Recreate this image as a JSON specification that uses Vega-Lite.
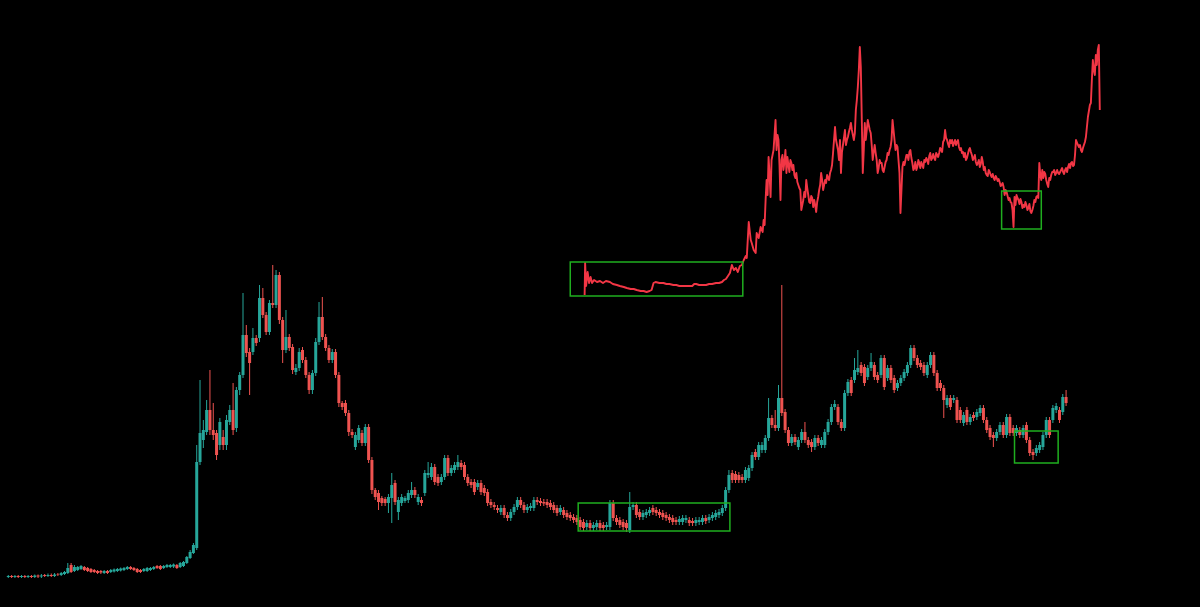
{
"$schema":"https://vega.github.io/schema/vega-lite/v6.json",
"width":1200,"height":607,
"autosize":{"type":"fit","contains":"padding"},
"padding":0,
"background":"#000000",
"config":{"view":{"stroke":null}},
"datasets":{
"candles":[
{"w":0,"o":23,"h":25,"l":22,"c":24},{"w":1,"o":24,"h":25,"l":22,"c":23},{"w":2,"o":23,"h":25,"l":22,"c":24},{"w":3,"o":24,"h":25,"l":22,"c":23},{"w":4,"o":23,"h":25,"l":22,"c":24},{"w":5,"o":24,"h":25,"l":22,"c":23},{"w":6,"o":23,"h":25,"l":22,"c":24},{"w":7,"o":24,"h":25,"l":22,"c":23},{"w":8,"o":23,"h":25.5,"l":22,"c":24.5},{"w":9,"o":24.5,"h":25.5,"l":22,"c":23.5},{"w":10,"o":23.5,"h":26,"l":22,"c":24.5},{"w":11,"o":25,"h":26,"l":23,"c":24},{"w":12,"o":24,"h":26.5,"l":23,"c":25},{"w":13,"o":25,"h":26.5,"l":23,"c":24},{"w":14,"o":24,"h":27,"l":23,"c":25.5},{"w":15,"o":25.5,"h":27,"l":24,"c":25},
{"w":16,"o":25,"h":28,"l":24,"c":27},{"w":17,"o":26,"h":29,"l":25,"c":28},{"w":18,"o":27,"h":37,"l":26,"c":32},{"w":19,"o":35,"h":37,"l":27,"c":28},{"w":20,"o":29,"h":35,"l":28,"c":33},{"w":21,"o":30,"h":34,"l":29,"c":33},{"w":22,"o":31,"h":35,"l":30,"c":34},{"w":23,"o":33,"h":34,"l":29,"c":30},{"w":24,"o":32,"h":33,"l":28,"c":29},{"w":25,"o":31,"h":32,"l":27,"c":28},{"w":26,"o":30,"h":31,"l":27,"c":28},{"w":27,"o":29,"h":30,"l":26,"c":27},{"w":28,"o":29,"h":30,"l":26,"c":27.5},{"w":29,"o":27,"h":30,"l":26,"c":29},{"w":30,"o":29,"h":30,"l":26,"c":27},{"w":31,"o":28,"h":31,"l":27,"c":30},{"w":32,"o":28.5,"h":31.5,"l":27.5,"c":30.5},{"w":33,"o":29,"h":32,"l":28,"c":31},{"w":34,"o":29.5,"h":32.5,"l":28.5,"c":31.5},{"w":35,"o":30,"h":33,"l":29,"c":32},{"w":36,"o":31,"h":34,"l":30,"c":33},{"w":37,"o":33,"h":34,"l":30,"c":31},{"w":38,"o":32,"h":33,"l":29,"c":30},{"w":39,"o":31,"h":32,"l":27,"c":28},{"w":40,"o":30,"h":31,"l":27,"c":28},{"w":41,"o":29,"h":32,"l":28,"c":31},{"w":42,"o":29,"h":33,"l":28,"c":32},{"w":43,"o":30,"h":33,"l":29,"c":32},{"w":44,"o":31,"h":34,"l":30,"c":33},{"w":45,"o":34,"h":35,"l":31,"c":32},{"w":46,"o":34,"h":35,"l":30,"c":31},{"w":47,"o":32,"h":35,"l":31,"c":34},{"w":48,"o":33,"h":36,"l":32,"c":35},{"w":49,"o":33,"h":36,"l":32,"c":35},{"w":50,"o":33.5,"h":36.5,"l":32,"c":35.5},{"w":51,"o":35,"h":36,"l":31,"c":32},{"w":52,"o":33,"h":38,"l":32,"c":37},{"w":53,"o":34,"h":39,"l":33,"c":38},{"w":54,"o":37,"h":44,"l":36,"c":43},{"w":55,"o":42,"h":50,"l":41,"c":48},{"w":56,"o":47,"h":57,"l":46,"c":55},{"w":57,"o":52,"h":155,"l":50,"c":138},{"w":58,"o":138,"h":220,"l":135,"c":167},{"w":59,"o":160,"h":180,"l":152,"c":170},
{"w":60,"o":168,"h":200,"l":165,"c":190},{"w":61,"o":190,"h":230,"l":165,"c":170},{"w":62,"o":170,"h":197,"l":160,"c":165},{"w":63,"o":167,"h":170,"l":140,"c":145},{"w":64,"o":155,"h":182,"l":150,"c":178},{"w":65,"o":163,"h":170,"l":150,"c":155},{"w":66,"o":155,"h":185,"l":150,"c":180},{"w":67,"o":178,"h":195,"l":175,"c":190},{"w":68,"o":190,"h":217,"l":165,"c":170},{"w":69,"o":172,"h":213,"l":168,"c":210},{"w":70,"o":210,"h":228,"l":205,"c":225},{"w":71,"o":225,"h":307,"l":222,"c":265},{"w":72,"o":265,"h":275,"l":243,"c":247},{"w":73,"o":248,"h":252,"l":205,"c":237},{"w":74,"o":248,"h":272,"l":245,"c":262},{"w":75,"o":262,"h":265,"l":254,"c":257},{"w":76,"o":262,"h":315,"l":258,"c":302},{"w":77,"o":302,"h":312,"l":282,"c":285},{"w":78,"o":285,"h":288,"l":265,"c":268},{"w":79,"o":268,"h":300,"l":265,"c":297},{"w":80,"o":297,"h":335,"l":292,"c":295},{"w":81,"o":295,"h":330,"l":292,"c":325},{"w":82,"o":325,"h":328,"l":276,"c":280},{"w":83,"o":280,"h":283,"l":237,"c":250},{"w":84,"o":250,"h":290,"l":247,"c":263},{"w":85,"o":263,"h":266,"l":249,"c":252},{"w":86,"o":253,"h":256,"l":226,"c":230},{"w":87,"o":228,"h":236,"l":225,"c":232},{"w":88,"o":232,"h":252,"l":229,"c":248},{"w":89,"o":250,"h":253,"l":237,"c":240},
{"w":90,"o":240,"h":243,"l":222,"c":225},{"w":91,"o":225,"h":228,"l":206,"c":210},{"w":92,"o":210,"h":230,"l":206,"c":227},{"w":93,"o":227,"h":262,"l":224,"c":258},{"w":94,"o":258,"h":298,"l":255,"c":283},{"w":95,"o":283,"h":303,"l":260,"c":263},{"w":96,"o":263,"h":266,"l":249,"c":252},{"w":97,"o":252,"h":255,"l":237,"c":240},{"w":98,"o":240,"h":251,"l":237,"c":248},{"w":99,"o":248,"h":251,"l":222,"c":225},{"w":100,"o":225,"h":228,"l":193,"c":197},{"w":101,"o":197,"h":199,"l":190,"c":193},{"w":102,"o":197,"h":200,"l":184,"c":187},{"w":103,"o":187,"h":190,"l":164,"c":168},{"w":104,"o":168,"h":171,"l":162,"c":165},{"w":105,"o":153,"h":168,"l":150,"c":165},{"w":106,"o":160,"h":175,"l":157,"c":172},{"w":107,"o":167,"h":170,"l":154,"c":157},{"w":108,"o":157,"h":176,"l":154,"c":173},{"w":109,"o":173,"h":176,"l":137,"c":140},
{"w":110,"o":140,"h":143,"l":106,"c":110},{"w":111,"o":110,"h":112,"l":100,"c":103},{"w":112,"o":107,"h":110,"l":90,"c":98},{"w":113,"o":102,"h":104,"l":94,"c":97},{"w":114,"o":101,"h":103,"l":94,"c":97},{"w":115,"o":97,"h":106,"l":87,"c":103},{"w":116,"o":102,"h":127,"l":77,"c":115},{"w":117,"o":117,"h":120,"l":95,"c":98},{"w":118,"o":88,"h":103,"l":80,"c":100},{"w":119,"o":97,"h":106,"l":94,"c":103},{"w":120,"o":99,"h":104,"l":97,"c":102},{"w":121,"o":100,"h":110,"l":97,"c":107},{"w":122,"o":105,"h":118,"l":102,"c":110},{"w":123,"o":110,"h":113,"l":102,"c":105},{"w":124,"o":98,"h":106,"l":95,"c":103},{"w":125,"o":100,"h":103,"l":94,"c":97},{"w":126,"o":107,"h":130,"l":104,"c":127},{"w":127,"o":125,"h":138,"l":122,"c":127},{"w":128,"o":123,"h":137,"l":120,"c":133},{"w":129,"o":133,"h":136,"l":115,"c":118},{"w":130,"o":123,"h":126,"l":114,"c":117},{"w":131,"o":118,"h":126,"l":115,"c":123},{"w":132,"o":123,"h":145,"l":120,"c":142},{"w":133,"o":142,"h":145,"l":124,"c":127},{"w":134,"o":127,"h":135,"l":124,"c":132},{"w":135,"o":130,"h":138,"l":127,"c":135},{"w":136,"o":133,"h":145,"l":130,"c":138},{"w":137,"o":137,"h":140,"l":130,"c":133},{"w":138,"o":135,"h":138,"l":120,"c":123},{"w":139,"o":123,"h":126,"l":114,"c":117},
{"w":140,"o":118,"h":121,"l":112,"c":115},{"w":141,"o":118,"h":121,"l":105,"c":108},{"w":142,"o":113,"h":120,"l":110,"c":117},{"w":143,"o":117,"h":120,"l":105,"c":108},{"w":144,"o":112,"h":115,"l":104,"c":107},{"w":145,"o":108,"h":111,"l":94,"c":97},{"w":146,"o":98,"h":101,"l":92,"c":95},{"w":147,"o":95,"h":98,"l":90,"c":93},{"w":148,"o":92,"h":95,"l":87,"c":90},{"w":149,"o":88,"h":95,"l":85,"c":92},{"w":150,"o":92,"h":95,"l":82,"c":85},{"w":151,"o":85,"h":88,"l":79,"c":82},{"w":152,"o":82,"h":91,"l":79,"c":88},{"w":153,"o":88,"h":96,"l":85,"c":93},{"w":154,"o":93,"h":103,"l":90,"c":100},{"w":155,"o":100,"h":103,"l":92,"c":95},{"w":156,"o":95,"h":98,"l":87,"c":90},{"w":157,"o":90,"h":96,"l":87,"c":93},{"w":158,"o":92,"h":97,"l":89,"c":94},{"w":159,"o":92,"h":103,"l":89,"c":100},
{"w":160,"o":100,"h":103,"l":95,"c":98},{"w":161,"o":99,"h":102,"l":94,"c":97},{"w":162,"o":98,"h":101,"l":94,"c":96.5},{"w":163,"o":98,"h":101,"l":92,"c":95},{"w":164,"o":97,"h":100,"l":90,"c":93},{"w":165,"o":95,"h":98,"l":87,"c":90},{"w":166,"o":92,"h":95,"l":84,"c":87},{"w":167,"o":88,"h":95,"l":85,"c":92},{"w":168,"o":90,"h":93,"l":82,"c":85},{"w":169,"o":87,"h":90,"l":80,"c":83},{"w":170,"o":85,"h":88,"l":79,"c":82},{"w":171,"o":83,"h":86,"l":77,"c":80},{"w":172,"o":82,"h":85,"l":75,"c":78},{"w":173,"o":80,"h":83,"l":70,"c":73},{"w":174,"o":78,"h":81,"l":69,"c":72},{"w":175,"o":73,"h":80,"l":70,"c":77},{"w":176,"o":77,"h":80,"l":69,"c":72},{"w":177,"o":72,"h":78,"l":69,"c":75},{"w":178,"o":73,"h":80,"l":70,"c":77},{"w":179,"o":77,"h":80,"l":69,"c":72},
{"w":180,"o":75,"h":78,"l":69,"c":72},{"w":181,"o":73,"h":78,"l":70,"c":75},{"w":182,"o":73,"h":100,"l":70,"c":97},{"w":183,"o":97,"h":100,"l":79,"c":82},{"w":184,"o":82,"h":85,"l":75,"c":78},{"w":185,"o":80,"h":83,"l":72,"c":75},{"w":186,"o":78,"h":81,"l":70,"c":73},{"w":187,"o":77,"h":80,"l":68,"c":72},{"w":188,"o":70,"h":108,"l":67,"c":93},{"w":189,"o":93,"h":98,"l":90,"c":95},{"w":190,"o":95,"h":98,"l":82,"c":85},{"w":191,"o":88,"h":91,"l":80,"c":83},{"w":192,"o":83,"h":90,"l":80,"c":87},{"w":193,"o":85,"h":91,"l":82,"c":88},{"w":194,"o":87,"h":93,"l":84,"c":90},{"w":195,"o":92,"h":95,"l":85,"c":88},{"w":196,"o":90,"h":93,"l":84,"c":87},{"w":197,"o":88,"h":91,"l":82,"c":85},{"w":198,"o":87,"h":90,"l":80,"c":83},{"w":199,"o":85,"h":88,"l":79,"c":82},
{"w":200,"o":83,"h":86,"l":77,"c":80},{"w":201,"o":82,"h":85,"l":75,"c":78},{"w":202,"o":80,"h":83,"l":75,"c":78},{"w":203,"o":78,"h":84,"l":75,"c":81},{"w":204,"o":78,"h":85,"l":75,"c":82},{"w":205,"o":80,"h":85,"l":77,"c":82},{"w":206,"o":80,"h":83,"l":74,"c":77},{"w":207,"o":79,"h":82,"l":74,"c":77},{"w":208,"o":77,"h":83,"l":74,"c":80},{"w":209,"o":78,"h":83,"l":75,"c":80},{"w":210,"o":78,"h":85,"l":75,"c":82},{"w":211,"o":82,"h":85,"l":76,"c":79},{"w":212,"o":80,"h":86,"l":77,"c":83},{"w":213,"o":82,"h":88,"l":79,"c":85},{"w":214,"o":83,"h":90,"l":80,"c":87},{"w":215,"o":85,"h":91,"l":82,"c":88},{"w":216,"o":87,"h":95,"l":84,"c":92},{"w":217,"o":92,"h":113,"l":89,"c":110},{"w":218,"o":110,"h":130,"l":107,"c":125},{"w":219,"o":127,"h":130,"l":117,"c":120},
{"w":220,"o":126,"h":129,"l":117,"c":120},{"w":221,"o":125,"h":128,"l":117,"c":120},{"w":222,"o":123,"h":126,"l":117,"c":120},{"w":223,"o":120,"h":133,"l":117,"c":130},{"w":224,"o":122,"h":135,"l":119,"c":132},{"w":225,"o":132,"h":148,"l":129,"c":145},{"w":226,"o":148,"h":151,"l":140,"c":143},{"w":227,"o":143,"h":158,"l":140,"c":155},{"w":228,"o":150,"h":158,"l":147,"c":155},{"w":229,"o":150,"h":165,"l":147,"c":162},{"w":230,"o":162,"h":202,"l":159,"c":182},{"w":231,"o":182,"h":185,"l":172,"c":175},{"w":232,"o":175,"h":190,"l":169,"c":172},{"w":233,"o":172,"h":215,"l":169,"c":202},{"w":234,"o":202,"h":315,"l":184,"c":187},{"w":235,"o":188,"h":191,"l":167,"c":170},{"w":236,"o":170,"h":173,"l":154,"c":157},{"w":237,"o":157,"h":166,"l":154,"c":163},{"w":238,"o":163,"h":166,"l":155,"c":158},{"w":239,"o":153,"h":163,"l":150,"c":160},
{"w":240,"o":160,"h":171,"l":157,"c":168},{"w":241,"o":168,"h":178,"l":157,"c":160},{"w":242,"o":160,"h":163,"l":152,"c":155},{"w":243,"o":158,"h":161,"l":148,"c":153},{"w":244,"o":153,"h":165,"l":150,"c":162},{"w":245,"o":162,"h":165,"l":154,"c":157},{"w":246,"o":155,"h":163,"l":152,"c":160},{"w":247,"o":155,"h":171,"l":152,"c":168},{"w":248,"o":168,"h":181,"l":165,"c":178},{"w":249,"o":178,"h":196,"l":175,"c":193},{"w":250,"o":193,"h":200,"l":190,"c":196},{"w":251,"o":193,"h":196,"l":175,"c":178},{"w":252,"o":178,"h":181,"l":169,"c":172},{"w":253,"o":172,"h":210,"l":169,"c":207},{"w":254,"o":207,"h":221,"l":204,"c":218},{"w":255,"o":220,"h":223,"l":204,"c":207},{"w":256,"o":220,"h":242,"l":217,"c":230},{"w":257,"o":228,"h":250,"l":225,"c":232},{"w":258,"o":235,"h":238,"l":224,"c":227},{"w":259,"o":233,"h":236,"l":214,"c":217},
{"w":260,"o":223,"h":235,"l":220,"c":232},{"w":261,"o":232,"h":247,"l":229,"c":238},{"w":262,"o":235,"h":238,"l":220,"c":223},{"w":263,"o":225,"h":228,"l":217,"c":220},{"w":264,"o":225,"h":245,"l":222,"c":242},{"w":265,"o":242,"h":245,"l":210,"c":213},{"w":266,"o":222,"h":235,"l":219,"c":232},{"w":267,"o":232,"h":235,"l":217,"c":220},{"w":268,"o":222,"h":225,"l":207,"c":210},{"w":269,"o":212,"h":220,"l":209,"c":217},{"w":270,"o":217,"h":225,"l":214,"c":222},{"w":271,"o":222,"h":231,"l":219,"c":228},{"w":272,"o":227,"h":238,"l":224,"c":235},{"w":273,"o":235,"h":255,"l":232,"c":252},{"w":274,"o":252,"h":255,"l":239,"c":242},{"w":275,"o":242,"h":245,"l":232,"c":235},{"w":276,"o":237,"h":240,"l":230,"c":233},{"w":277,"o":235,"h":238,"l":224,"c":227},{"w":278,"o":225,"h":238,"l":222,"c":235},{"w":279,"o":235,"h":248,"l":232,"c":245},
{"w":280,"o":245,"h":248,"l":224,"c":227},{"w":281,"o":227,"h":230,"l":209,"c":212},{"w":282,"o":217,"h":220,"l":209,"c":212},{"w":283,"o":212,"h":215,"l":182,"c":200},{"w":284,"o":195,"h":205,"l":192,"c":202},{"w":285,"o":202,"h":205,"l":190,"c":193},{"w":286,"o":200,"h":205,"l":197,"c":202},{"w":287,"o":200,"h":203,"l":177,"c":180},{"w":288,"o":190,"h":193,"l":177,"c":180},{"w":289,"o":177,"h":188,"l":174,"c":185},{"w":290,"o":190,"h":193,"l":175,"c":178},{"w":291,"o":178,"h":186,"l":175,"c":183},{"w":292,"o":185,"h":188,"l":179,"c":182},{"w":293,"o":183,"h":191,"l":180,"c":188},{"w":294,"o":187,"h":195,"l":184,"c":192},{"w":295,"o":192,"h":195,"l":177,"c":180},{"w":296,"o":180,"h":183,"l":167,"c":170},{"w":297,"o":172,"h":175,"l":160,"c":163},{"w":298,"o":165,"h":168,"l":153,"c":162},{"w":299,"o":162,"h":171,"l":159,"c":168},
{"w":300,"o":168,"h":178,"l":165,"c":175},{"w":301,"o":175,"h":178,"l":162,"c":165},{"w":302,"o":165,"h":186,"l":162,"c":183},{"w":303,"o":183,"h":186,"l":164,"c":167},{"w":304,"o":172,"h":175,"l":164,"c":167},{"w":305,"o":167,"h":175,"l":164,"c":172},{"w":306,"o":170,"h":173,"l":162,"c":165},{"w":307,"o":165,"h":175,"l":162,"c":172},{"w":308,"o":175,"h":178,"l":157,"c":160},{"w":309,"o":160,"h":163,"l":144,"c":147},{"w":310,"o":148,"h":151,"l":140,"c":145},{"w":311,"o":147,"h":155,"l":144,"c":152},{"w":312,"o":150,"h":158,"l":147,"c":155},{"w":313,"o":153,"h":168,"l":150,"c":165},{"w":314,"o":165,"h":183,"l":162,"c":180},{"w":315,"o":180,"h":183,"l":162,"c":165},{"w":316,"o":180,"h":195,"l":177,"c":192},{"w":317,"o":190,"h":197,"l":187,"c":194},{"w":318,"o":190,"h":193,"l":177,"c":180},{"w":319,"o":188,"h":206,"l":185,"c":203},{"w":320,"o":203,"h":210,"l":194,"c":197}
],
"line":[
{"t":174.35,"v":305},{"t":174.5,"v":337},{"t":174.8,"v":314},{"t":175.25,"v":328},{"t":175.7,"v":317},{"t":176.15,"v":323},{"t":176.6,"v":317},{"t":177.2,"v":320},{"t":178.1,"v":318},{"t":179,"v":319},{"t":179.9,"v":317},{"t":180.8,"v":319},{"t":182,"v":318},{"t":182.9,"v":316},{"t":184.1,"v":315},{"t":185,"v":314},{"t":186.2,"v":313},{"t":187.1,"v":312},{"t":188.3,"v":311},{"t":189.2,"v":311},{"t":190.1,"v":310},{"t":191.3,"v":309},{"t":192.2,"v":309},{"t":193.1,"v":308},{"t":194,"v":309},{"t":194.6,"v":310},{"t":195.2,"v":317},{"t":195.8,"v":318},{"t":197,"v":317},{"t":198.2,"v":317},{"t":199.1,"v":316},{"t":200,"v":316},{"t":201.2,"v":315},{"t":202.1,"v":315},{"t":203,"v":314},{"t":204.2,"v":314},{"t":205.1,"v":314},{"t":206,"v":314},{"t":206.9,"v":314},{"t":207.5,"v":316},{"t":208.1,"v":316},{"t":209,"v":315},{"t":209.9,"v":315},{"t":211.1,"v":315},{"t":212,"v":316},{"t":212.9,"v":316},{"t":214.1,"v":317},{"t":215,"v":317},{"t":215.9,"v":318},{"t":216.5,"v":320},{"t":217.1,"v":321},{"t":217.7,"v":324},{"t":218.3,"v":327},{"t":218.9,"v":335},{"t":219.5,"v":330},{"t":220.1,"v":332},{"t":220.7,"v":328},{"t":221.3,"v":334},{"t":221.9,"v":335},{"t":222.5,"v":340},{"t":223.1,"v":344},{"t":223.4,"v":342},{"t":224,"v":378},{"t":224.6,"v":360},{"t":224.9,"v":357},{"t":225.5,"v":350},{"t":226.1,"v":347},{"t":226.4,"v":367},{"t":227,"v":362},{"t":227.6,"v":373},{"t":228.2,"v":368},{"t":228.5,"v":380},{"t":228.8,"v":375},{"t":229.1,"v":400},{"t":229.4,"v":420},{"t":229.7,"v":405},{"t":230,"v":443},{"t":230.3,"v":425},{"t":230.6,"v":403},{"t":230.9,"v":440},{"t":231.5,"v":450},{"t":232.1,"v":480},{"t":232.4,"v":450},{"t":232.7,"v":465},{"t":233,"v":460},{"t":233.3,"v":435},{"t":233.6,"v":400},{"t":233.9,"v":440},{"t":234.5,"v":430},{"t":235.1,"v":450},{"t":235.4,"v":427},{"t":236,"v":435},{"t":236.6,"v":440},{"t":237.2,"v":430},{"t":237.5,"v":435},{"t":238.1,"v":422},{"t":238.4,"v":427},{"t":239,"v":415},{"t":239.6,"v":410},{"t":239.9,"v":390},{"t":240.5,"v":400},{"t":241.1,"v":403},{"t":241.4,"v":420},{"t":242,"v":405},{"t":242.6,"v":397},{"t":243.2,"v":402},{"t":243.5,"v":393},{"t":244.1,"v":395},{"t":244.4,"v":388},{"t":245,"v":403},{"t":245.6,"v":415},{"t":245.9,"v":427},{"t":246.5,"v":410},{"t":247.1,"v":420},{"t":247.4,"v":417},{"t":248,"v":422},{"t":248.6,"v":427},{"t":249.2,"v":435},{"t":249.5,"v":447},{"t":250.1,"v":473},{"t":250.4,"v":460},{"t":251,"v":450},{"t":251.6,"v":460},{"t":251.9,"v":427},{"t":252.5,"v":455},{"t":253.1,"v":470},{"t":253.7,"v":460},{"t":254,"v":463},{"t":254.6,"v":472},{"t":254.9,"v":477},{"t":255.5,"v":465},{"t":256.1,"v":467},{"t":256.4,"v":490},{"t":257,"v":513},{"t":257.3,"v":530},{"t":257.6,"v":553},{"t":257.9,"v":533},{"t":258.2,"v":480},{"t":258.5,"v":427},{"t":258.8,"v":450},{"t":259.1,"v":477},{"t":259.4,"v":460},{"t":260,"v":480},{"t":260.6,"v":470},{"t":260.9,"v":467},{"t":261.5,"v":440},{"t":262.1,"v":455},{"t":262.4,"v":447},{"t":263,"v":427},{"t":263.6,"v":440},{"t":263.9,"v":437},{"t":264.5,"v":430},{"t":265.1,"v":433},{"t":265.7,"v":440},{"t":266,"v":447},{"t":266.6,"v":450},{"t":266.9,"v":453},{"t":267.5,"v":480},{"t":268.1,"v":460},{"t":268.7,"v":455},{"t":269,"v":453},{"t":269.3,"v":440},{"t":269.6,"v":427},{"t":269.9,"v":387},{"t":270.2,"v":410},{"t":270.5,"v":433},{"t":271.1,"v":435},{"t":271.4,"v":440},{"t":272,"v":445},{"t":272.6,"v":448},{"t":273.2,"v":442},{"t":273.5,"v":437},{"t":274.1,"v":432},{"t":275,"v":433},{"t":275.6,"v":437},{"t":276.5,"v":435},{"t":277.1,"v":440},{"t":278,"v":440},{"t":278.9,"v":447},{"t":279.5,"v":442},{"t":280.1,"v":442},{"t":281,"v":445},{"t":281.6,"v":447},{"t":282.2,"v":450},{"t":282.8,"v":458},{"t":283.1,"v":460},{"t":283.4,"v":470},{"t":284,"v":460},{"t":284.6,"v":453},{"t":285.2,"v":457},{"t":285.5,"v":460},{"t":286.1,"v":457},{"t":287,"v":458},{"t":287.6,"v":453},{"t":287.9,"v":450},{"t":288.5,"v":447},{"t":289.1,"v":443},{"t":290,"v":442},{"t":290.6,"v":450},{"t":290.9,"v":452},{"t":291.5,"v":445},{"t":292.1,"v":442},{"t":292.7,"v":438},{"t":293,"v":435},{"t":293.9,"v":433},{"t":294.5,"v":443},{"t":295.1,"v":430},{"t":295.7,"v":427},{"t":296,"v":425},{"t":296.9,"v":428},{"t":297.5,"v":423},{"t":298.1,"v":422},{"t":299,"v":422},{"t":299.9,"v":418},{"t":300.5,"v":415},{"t":301.1,"v":413},{"t":301.4,"v":405},{"t":302,"v":408},{"t":302.6,"v":400},{"t":303.5,"v":397},{"t":303.8,"v":390},{"t":304.1,"v":373},{"t":304.4,"v":403},{"t":305,"v":405},{"t":305.6,"v":400},{"t":306.5,"v":398},{"t":307.1,"v":395},{"t":307.4,"v":393},{"t":308,"v":395},{"t":308.6,"v":392},{"t":309.2,"v":389},{"t":309.5,"v":387},{"t":310.1,"v":394},{"t":310.4,"v":400},{"t":311,"v":403},{"t":311.6,"v":402},{"t":311.9,"v":437},{"t":312.2,"v":425},{"t":312.5,"v":420},{"t":312.8,"v":430},{"t":313.4,"v":428},{"t":314,"v":420},{"t":314.6,"v":413},{"t":314.9,"v":422},{"t":315.5,"v":425},{"t":316.1,"v":428},{"t":316.4,"v":430},{"t":317,"v":427},{"t":317.6,"v":427},{"t":318.5,"v":430},{"t":319.1,"v":428},{"t":320,"v":432},{"t":320.6,"v":433},{"t":321.5,"v":437},{"t":322.1,"v":434},{"t":322.4,"v":435},{"t":322.7,"v":445},{"t":323,"v":460},{"t":323.6,"v":455},{"t":323.9,"v":453},{"t":324.5,"v":450},{"t":325.1,"v":452},{"t":325.7,"v":458},{"t":326,"v":463},{"t":326.6,"v":483},{"t":327.2,"v":495},{"t":327.5,"v":497},{"t":327.8,"v":520},{"t":328.1,"v":540},{"t":328.4,"v":530},{"t":328.7,"v":525},{"t":329,"v":545},{"t":329.3,"v":535},{"t":329.6,"v":550},{"t":329.9,"v":555},{"t":330.2,"v":490},
{"t":234.2,"v":445},{"t":234.8,"v":438},{"t":235.7,"v":443},{"t":236.3,"v":428},{"t":236.9,"v":437},{"t":237.8,"v":425},{"t":238.7,"v":418},{"t":239.3,"v":412},{"t":240.2,"v":395},{"t":240.8,"v":408},{"t":241.7,"v":412},{"t":242.3,"v":398},{"t":242.9,"v":404},{"t":243.8,"v":400},{"t":244.7,"v":398},{"t":245.3,"v":410},{"t":246.2,"v":420},{"t":246.8,"v":415},{"t":247.7,"v":425},{"t":248.3,"v":420},{"t":248.9,"v":430},{"t":249.8,"v":460},{"t":250.7,"v":455},{"t":251.3,"v":440},{"t":252.2,"v":448},{"t":252.8,"v":462},{"t":253.4,"v":455},{"t":254.3,"v":468},{"t":255.2,"v":470},{"t":255.8,"v":460},{"t":256.7,"v":500},{"t":259.7,"v":470},{"t":260.3,"v":475},{"t":261.2,"v":455},{"t":261.8,"v":448},{"t":262.7,"v":440},{"t":263.3,"v":432},{"t":264.2,"v":437},{"t":264.8,"v":428},{"t":265.4,"v":438},{"t":266.3,"v":445},{"t":267.2,"v":460},{"t":267.8,"v":470},{"t":268.4,"v":450},{"t":270.8,"v":438},{"t":271.7,"v":445},{"t":272.3,"v":440},{"t":272.9,"v":450},{"t":273.8,"v":430},{"t":274.4,"v":438},{"t":274.7,"v":430},{"t":275.3,"v":440},{"t":275.9,"v":432},{"t":276.2,"v":438},{"t":276.8,"v":432},{"t":277.4,"v":438},{"t":277.7,"v":442},{"t":278.3,"v":436},{"t":278.6,"v":444},{"t":279.2,"v":440},{"t":279.8,"v":446},{"t":280.4,"v":440},{"t":280.7,"v":447},{"t":281.3,"v":443},{"t":281.9,"v":452},{"t":282.5,"v":448},{"t":283.7,"v":462},{"t":284.3,"v":456},{"t":284.9,"v":460},{"t":285.8,"v":454},{"t":286.4,"v":460},{"t":286.7,"v":455},{"t":287.3,"v":460},{"t":288.2,"v":452},{"t":288.8,"v":448},{"t":289.4,"v":447},{"t":289.7,"v":440},{"t":290.3,"v":446},{"t":291.2,"v":448},{"t":291.8,"v":440},{"t":292.4,"v":445},{"t":293.3,"v":437},{"t":293.6,"v":440},{"t":294.2,"v":436},{"t":294.8,"v":438},{"t":295.4,"v":433},{"t":296.3,"v":424},{"t":296.6,"v":430},{"t":297.2,"v":425},{"t":297.8,"v":426},{"t":298.4,"v":420},{"t":298.7,"v":424},{"t":299.3,"v":419},{"t":299.6,"v":421},{"t":300.2,"v":414},{"t":300.8,"v":417},{"t":301.7,"v":410},{"t":302.3,"v":404},{"t":302.9,"v":402},{"t":303.2,"v":398},{"t":304.7,"v":395},{"t":305.3,"v":402},{"t":305.9,"v":396},{"t":306.2,"v":401},{"t":306.8,"v":392},{"t":307.7,"v":398},{"t":308.3,"v":390},{"t":308.9,"v":396},{"t":309.8,"v":390},{"t":310.7,"v":398},{"t":311.3,"v":404},{"t":313.1,"v":422},{"t":313.7,"v":426},{"t":314.3,"v":416},{"t":315.2,"v":420},{"t":315.8,"v":428},{"t":316.7,"v":425},{"t":317.3,"v":430},{"t":317.9,"v":426},{"t":318.2,"v":428},{"t":318.8,"v":432},{"t":319.4,"v":426},{"t":319.7,"v":430},{"t":320.3,"v":428},{"t":320.9,"v":436},{"t":321.2,"v":432},{"t":321.8,"v":438},{"t":324.2,"v":455},{"t":324.8,"v":448},{"t":325.4,"v":455}
],
"boxes":[
{"x1":170,"x2":222.2,"y1":304,"y2":338},
{"x1":300.5,"x2":312.5,"y1":371,"y2":409},
{"x1":172.4,"x2":218.3,"y1":69,"y2":97},
{"x1":304.4,"x2":317.6,"y1":137,"y2":169}
]
},
"layer":[
{"data":{"name":"candles"},"mark":{"type":"rule","strokeWidth":1},
 "encoding":{
  "x":{"field":"w","type":"quantitative","scale":{"domain":[-1,359],"nice":false,"zero":false},"axis":null},
  "y":{"field":"l","type":"quantitative","scale":{"domain":[-7,600],"nice":false,"zero":false},"axis":null},
  "y2":{"field":"h"},
  "color":{"condition":{"test":"datum.c >= datum.o","value":"#26a69a"},"value":"#ef5350"}}},
{"data":{"name":"candles"},"mark":{"type":"bar","size":3},
 "encoding":{
  "x":{"field":"w","type":"quantitative"},
  "y":{"field":"o","type":"quantitative"},
  "y2":{"field":"c"},
  "color":{"condition":{"test":"datum.c >= datum.o","value":"#26a69a"},"value":"#ef5350"}}},
{"data":{"name":"line"},"mark":{"type":"line","color":"#f23645","strokeWidth":1.9,"strokeJoin":"round"},
 "encoding":{
  "x":{"field":"t","type":"quantitative"},
  "y":{"field":"v","type":"quantitative"}}},
{"data":{"name":"boxes"},"mark":{"type":"rect","fill":null,"fillOpacity":0,"stroke":"#1fae1f","strokeWidth":1.5},
 "encoding":{
  "x":{"field":"x1","type":"quantitative"},
  "x2":{"field":"x2"},
  "y":{"field":"y1","type":"quantitative"},
  "y2":{"field":"y2"}}}
]
}
